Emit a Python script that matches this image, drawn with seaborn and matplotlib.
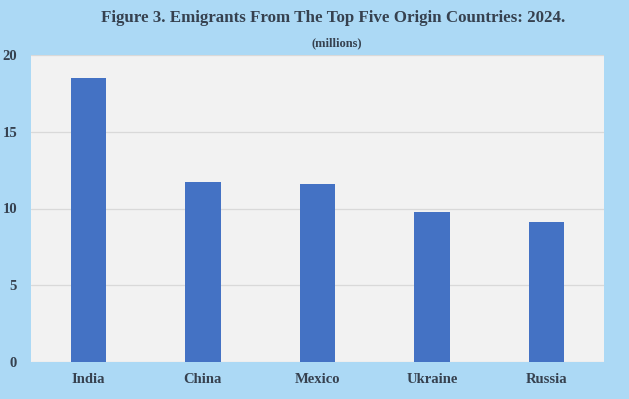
import matplotlib
matplotlib.use("Agg")
import matplotlib.pyplot as plt
import seaborn as sns
import pandas as pd

countries = ["India", "China", "Mexico", "Ukraine", "Russia"]
emigrants = [18.5, 11.7, 11.6, 9.8, 9.1]
yticks = [0, 5, 10, 15, 20]

title = "Figure 3. Emigrants From The Top Five Origin Countries: 2024."
subtitle = "(millions)"

bg = "#acd9f5"
panel = "#f2f2f2"
bar_color = "#4472c4"
text_color = "#36414f"

sns.set_theme(style="white")
plt.rcParams["font.family"] = ["Liberation Serif", "DejaVu Serif"]

df = pd.DataFrame({"country": countries, "value": emigrants})

fig = plt.figure(figsize=(6.29, 3.99), dpi=100, facecolor=bg)
ax = fig.add_axes([31/629, 1-362/399, (604-31)/629, (362-55)/399])
ax.set_facecolor(panel)

sns.barplot(data=df, x="country", y="value", color=bar_color, width=0.31,
            saturation=1, linewidth=0, ax=ax, zorder=3)

ax.set_ylim(0, 20)
ax.set_yticks(yticks)
ax.set_yticklabels([str(t) for t in yticks])
ax.yaxis.grid(True, color="#d9d9d9", linewidth=0.9, zorder=0)
ax.set_axisbelow(True)
for s in ax.spines.values():
    s.set_visible(False)
ax.set_xlabel("")
ax.set_ylabel("")
ax.tick_params(axis="both", length=0, labelsize=10.5, colors=text_color)
ax.tick_params(axis="y", pad=10)
ax.tick_params(axis="x", pad=8)
for lab in ax.get_xticklabels() + ax.get_yticklabels():
    lab.set_fontweight("bold")

fig.text(333/629, 1-18/399, title, ha="center", va="center", fontsize=12.2,
         fontweight="bold", color=text_color)
fig.text(337/629, 1-43/399, subtitle, ha="center", va="center", fontsize=9,
         fontweight="bold", color=text_color)

fig.savefig("out.png", dpi=100, facecolor=bg)
